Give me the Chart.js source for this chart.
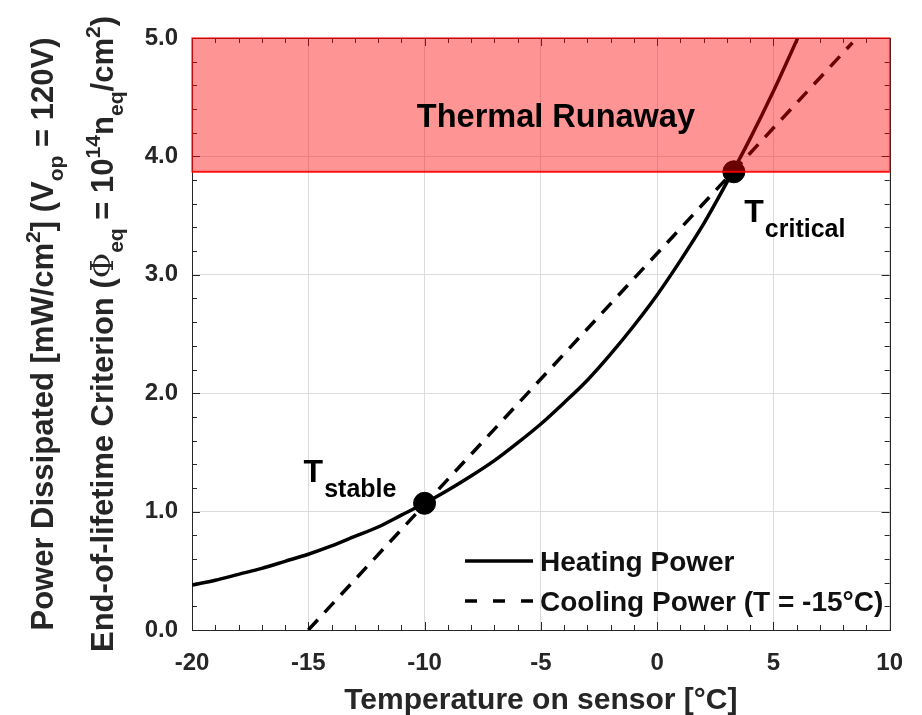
<!DOCTYPE html>
<html>
<head>
<meta charset="utf-8">
<script src="https://cdn.jsdelivr.net/npm/chart.js@4/dist/chart.umd.min.js"></script>
<style>
  html, body { margin: 0; background: #fff; }
</style>
</head>
<body>
<canvas id="chart" width="922" height="715"></canvas>
<script>
// temperatures (°C) and heating power
const heatT = [-20, -19, -18, -17, -16, -15, -14, -13, -12, -11, -10, -9, -8, -7, -6, -5, -4, -3, -2, -1, 0, 1, 2, 3, 4, 5, 6, 6.5];
const heatP = [0.38, 0.42, 0.47, 0.52, 0.58, 0.64, 0.71, 0.79, 0.87, 0.97, 1.07, 1.18, 1.30, 1.43, 1.58, 1.74, 1.92, 2.11, 2.33, 2.57, 2.83, 3.12, 3.43, 3.78, 4.15, 4.55, 4.98, 5.2];
// cooling line for a -15°C coolant
const coolT = [-15, 8.4];
const coolP = [0, 4.96];
// points where the two cross
const stableT = -10, stableP = 1.07;
const critT = 3.3, critP = 3.87;
// thermal runaway region starts here
const runawayLimit = 3.87;

const xTicks = [-20, -15, -10, -5, 0, 5, 10];
const yTicks = [0, 1, 2, 3, 4, 5];

const FONT = "'Liberation Sans', Arial, sans-serif";
const INK = '#262626';

function pts(xs, ys) {
  return xs.map((x, i) => ({ x: x, y: ys[i] }));
}

// box + inward ticks like the original plot
const frame = {
  id: 'frame',
  beforeDatasetsDraw(chart) {
    const { ctx, chartArea: a, scales: { x, y } } = chart;
    ctx.save();
    ctx.strokeStyle = INK;
    ctx.lineWidth = 1;
    ctx.beginPath();
    for (let t = -20; t <= 10; t++) {
      const px = Math.round(x.getPixelForValue(t)) + 0.5;
      const len = t % 5 === 0 ? 8 : 5;
      ctx.moveTo(px, a.bottom); ctx.lineTo(px, a.bottom - len);
      ctx.moveTo(px, a.top); ctx.lineTo(px, a.top + len);
    }
    for (let k = 0; k <= 25; k++) {
      const py = Math.round(y.getPixelForValue(k * 0.2)) + 0.5;
      const len = k % 5 === 0 ? 8 : 5;
      ctx.moveTo(a.left, py); ctx.lineTo(a.left + len, py);
      ctx.moveTo(a.right, py); ctx.lineTo(a.right - len, py);
    }
    ctx.stroke();
    ctx.strokeRect(Math.round(a.left) + 0.5, Math.round(a.top) + 0.5, Math.round(a.right - a.left), Math.round(a.bottom - a.top));
    ctx.restore();
  }
};

// draw text pieces with sub/superscripts along the baseline
function richText(ctx, parts, size) {
  let w = 0;
  const fontOf = p => (p.serif ? '' : 'bold ') + p._s + 'px ' + (p.serif ? "'DejaVu Serif', serif" : FONT);
  parts.forEach(p => {
    p._s = p.sub || p.sup ? size * 0.68 : size;
    ctx.font = fontOf(p);
    p._w = ctx.measureText(p.t).width;
    w += p._w;
  });
  return {
    width: w,
    draw(x0, y0) {
      let cx = x0;
      parts.forEach(p => {
        ctx.font = fontOf(p);
        let dy = 0;
        if (p.sub) dy = size * 0.32;
        if (p.sup) dy = -size * 0.42;
        ctx.fillText(p.t, cx, y0 + dy);
        cx += p._w;
      });
    }
  };
}

const yTitle1 = [
  { t: 'Power Dissipated [mW/cm' }, { t: '2', sup: true }, { t: '] (V' }, { t: 'op', sub: true }, { t: ' = 120V)' }
];
const yTitle2 = [
  { t: 'End-of-lifetime Criterion (' }, { t: 'Φ', serif: true }, { t: 'eq', sub: true }, { t: ' = 10' },
  { t: '14', sup: true }, { t: 'n' }, { t: 'eq', sub: true }, { t: '/cm' }, { t: '2', sup: true }, { t: ')' }
];

const notes = {
  id: 'notes',
  afterDatasetsDraw(chart) {
    const { ctx, chartArea: a, scales: { x, y } } = chart;
    ctx.save();
    // red outline of the runaway region
    const yl = y.getPixelForValue(runawayLimit);
    ctx.strokeStyle = 'rgba(255,0,0,0.7)';
    ctx.lineWidth = 1.5;
    ctx.strokeRect(a.left, a.top, a.right - a.left, yl - a.top);

    ctx.fillStyle = '#000';
    ctx.textBaseline = 'middle';
    ctx.textAlign = 'center';
    ctx.font = 'bold 32.5px ' + FONT;
    ctx.fillText('Thermal Runaway', x.getPixelForValue(-4.35), y.getPixelForValue(4.32));

    ctx.textAlign = 'left';
    ctx.textBaseline = 'alphabetic';
    const lab = (T, sub, tx, ty) => {
      const px = x.getPixelForValue(tx), py = y.getPixelForValue(ty);
      ctx.font = 'bold 32px ' + FONT;
      ctx.fillText(T, px, py);
      const w = ctx.measureText(T).width;
      ctx.font = 'bold 25px ' + FONT;
      ctx.fillText(sub, px + w + 1, py + 15);
    };
    lab('T', 'stable', -15.2, 1.25);
    lab('T', 'critical', 3.75, 3.45);

    // legend
    const ds = chart.data.datasets;
    const rows = [ds[1], ds[2]];
    rows.forEach((d, i) => {
      const ly = a.bottom - 69 + i * 40;
      const lx = a.left + 273;
      ctx.strokeStyle = '#000';
      ctx.lineWidth = 3.5;
      ctx.setLineDash(d.borderDash ? [12, 16] : []);
      ctx.beginPath();
      ctx.moveTo(lx, ly); ctx.lineTo(lx + 68, ly);
      ctx.stroke();
      ctx.setLineDash([]);
      ctx.font = 'bold 28px ' + FONT;
      ctx.fillStyle = '#111';
      ctx.textBaseline = 'middle';
      ctx.fillText(d.label, lx + 75, ly + 2);
    });
    ctx.restore();
  },
  afterDraw(chart) {
    const { ctx, chartArea: a } = chart;
    const cy = (a.top + a.bottom) / 2;
    ctx.save();
    ctx.fillStyle = INK;
    ctx.textAlign = 'left';
    ctx.textBaseline = 'alphabetic';
    [[yTitle1, 53], [yTitle2, 113]].forEach(([parts, bx]) => {
      const r = richText(ctx, parts, 31);
      ctx.save();
      ctx.translate(bx, cy);
      ctx.rotate(-Math.PI / 2);
      r.draw(-r.width / 2, 0);
      ctx.restore();
    });
    ctx.restore();
  }
};

new Chart(document.getElementById('chart'), {
  type: 'line',
  data: {
    datasets: [
      {
        label: 'Thermal Runaway',
        data: pts([-20, 10], [runawayLimit, runawayLimit]),
        borderColor: 'rgba(255,0,0,0.7)',
        borderWidth: 2,
        backgroundColor: 'rgba(255,0,0,0.42)',
        fill: 'end',
        pointRadius: 0,
        order: 0
      },
      {
        label: 'Heating Power',
        data: pts(heatT, heatP),
        borderColor: '#000',
        borderWidth: 3.5,
        cubicInterpolationMode: 'monotone',
        pointRadius: 0,
        fill: false,
        order: 2
      },
      {
        label: 'Cooling Power (T = -15°C)',
        data: pts(coolT, coolP),
        borderColor: '#000',
        borderWidth: 3.5,
        borderDash: [14, 10],
        pointRadius: 0,
        fill: false,
        order: 3
      },
      {
        label: 'crossings',
        data: pts([stableT, critT], [stableP, critP]),
        showLine: false,
        pointRadius: 11,
        pointBackgroundColor: '#000',
        pointBorderColor: '#000',
        order: 1
      }
    ]
  },
  options: {
    responsive: false,
    animation: false,
    layout: { padding: { top: 38, right: 30, left: 0, bottom: 0 } },
    plugins: {
      legend: { display: false },
      tooltip: { enabled: false }
    },
    scales: {
      x: {
        type: 'linear',
        min: -20,
        max: 10,
        afterFit: s => { s.height = 85; },
        afterBuildTicks: s => { s.ticks = xTicks.map(v => ({ value: v })); },
        grid: { color: '#dcdcdc', drawTicks: false },
        border: { display: false },
        ticks: { color: INK, font: { family: FONT, size: 24, weight: 'bold' }, padding: 19 },
        title: {
          display: true,
          text: 'Temperature on sensor [°C]',
          color: INK,
          font: { family: FONT, size: 30, weight: 'bold' },
          padding: { top: 0, bottom: -4 }
        }
      },
      y: {
        type: 'linear',
        min: 0,
        max: 5,
        afterFit: s => { s.width = 192; },
        afterBuildTicks: s => { s.ticks = yTicks.map(v => ({ value: v })); },
        grid: { color: '#dcdcdc', drawTicks: false },
        border: { display: false },
        ticks: {
          color: INK,
          font: { family: FONT, size: 24, weight: 'bold' },
          padding: 14,
          callback: v => v.toFixed(1)
        }
      }
    }
  },
  plugins: [frame, notes]
});
</script>
</body>
</html>
